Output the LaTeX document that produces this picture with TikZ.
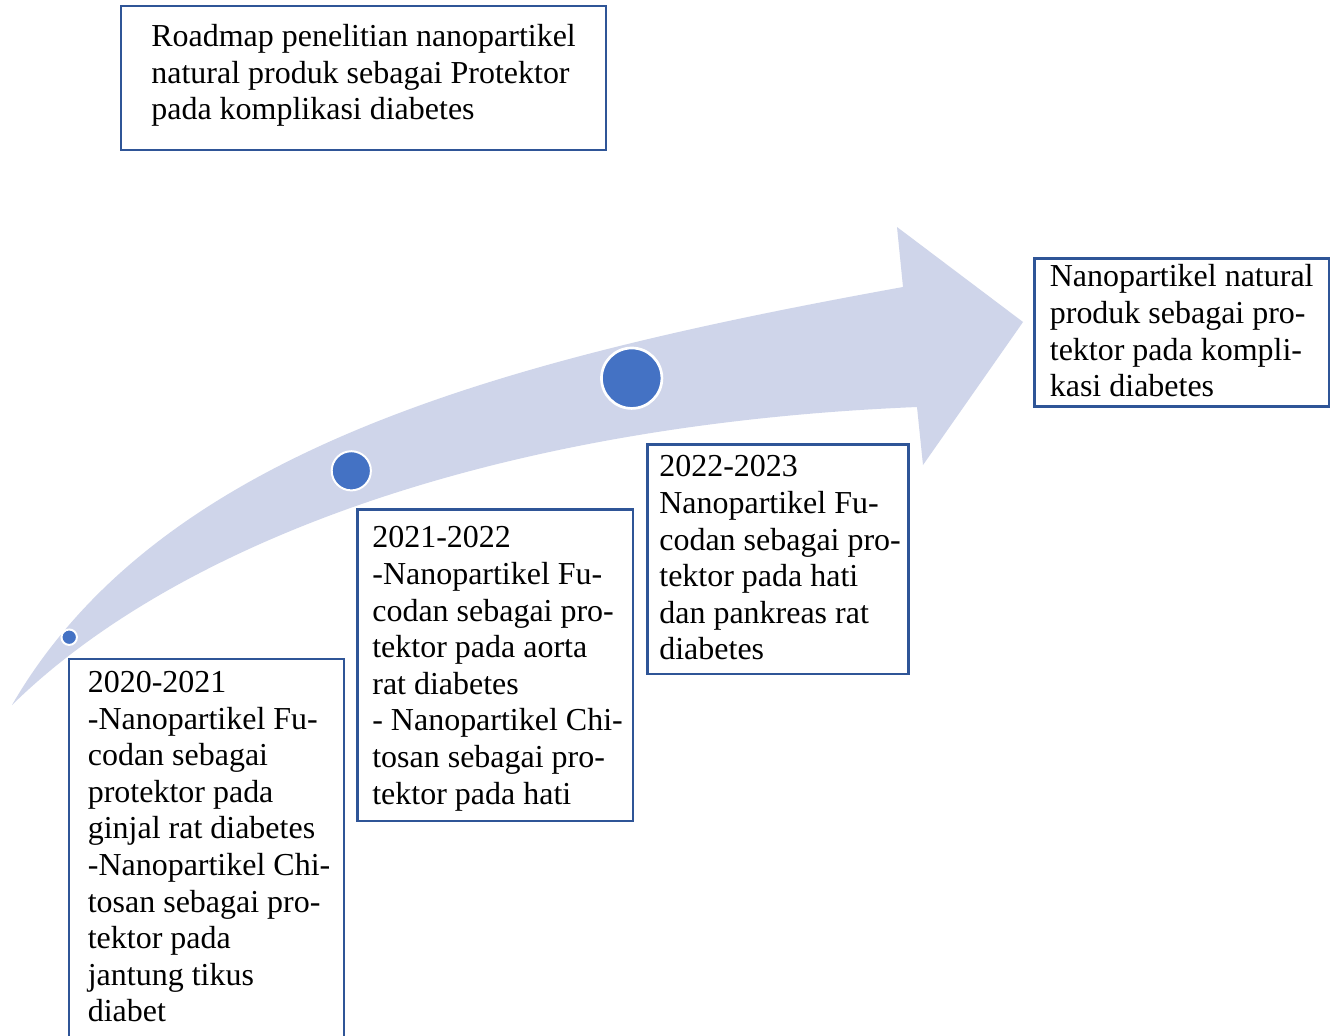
\documentclass[tikz,border=0pt]{standalone}
\usepackage{fontspec}
\setmainfont{Liberation Serif}
\usetikzlibrary{fit}
\definecolor{arrowfill}{HTML}{CFD5EA}
\definecolor{dotblue}{HTML}{4472C4}
\definecolor{boxblue}{RGB}{47,85,151}
\begin{document}
\begin{tikzpicture}[x=0.02cm,y=-0.02cm,
  box/.style={draw=boxblue, line width=1.6pt, inner sep=0pt},
  txt/.style={anchor=north west, inner sep=0pt, align=left, font=\fontsize{18.2}{20.83}\selectfont},
  dot/.style={circle, fill=dotblue, draw=white, inner sep=0pt}]
\useasboundingbox (0,0) rectangle (1338,1035);
\fill[white] (0,0) rectangle (1338,1035);
% curved arrow
\path[fill=arrowfill] (12,705) .. controls (160,450) and (500,360) .. (903,287)
  -- (897,227) -- (1023,322) -- (923,465) -- (917,407)
  .. controls (480,425) and (170,550) .. (12,705) -- cycle;
% milestone dots
\node[dot, minimum size=8.8pt, line width=1.13pt] (d1) at (69.2,637.2) {};
\node[dot, minimum size=22.3pt, line width=1.13pt] (d2) at (351.3,470.8) {};
\node[dot, minimum size=34.4pt, line width=1.53pt] (d3) at (631.7,378.2) {};
% boxes
\node[box, fit={(121,6)(606,150)}] (title) {};
\node[box, fit={(69,659)(344,1045)}] (b1) {};
\node[box, fit={(357.3,509.3)(633,821)}] (b2) {};
\node[box, fit={(647.3,444.3)(908.3,674)}] (b3) {};
\node[box, fit={(1034.3,258.3)(1329,406.7)}] (goal) {};
% texts
\node[txt] (ttitle) at (151,20.6) {\strut Roadmap penelitian nanopartikel\\natural produk sebagai Protektor\\pada komplikasi diabetes};
\node[txt] (t1) at (87.5,666.6) {\strut 2020-2021\\-Nanopartikel Fu-\\codan sebagai\\protektor pada\\ginjal rat diabetes\\-Nanopartikel Chi-\\tosan sebagai pro-\\tektor pada\\jantung tikus\\diabet};
\node[txt] (t2) at (372,522) {\strut 2021-2022\\-Nanopartikel Fu-\\codan sebagai pro-\\tektor pada aorta\\rat diabetes\\- Nanopartikel Chi-\\tosan sebagai pro-\\tektor pada hati};
\node[txt] (t3) at (659,451) {\strut 2022-2023\\Nanopartikel Fu-\\codan sebagai pro-\\tektor pada hati\\dan pankreas rat\\diabetes};
\node[txt] (tgoal) at (1049.5,261) {\strut Nanopartikel natural\\produk sebagai pro-\\tektor pada kompli-\\kasi diabetes};
\end{tikzpicture}
\end{document}
